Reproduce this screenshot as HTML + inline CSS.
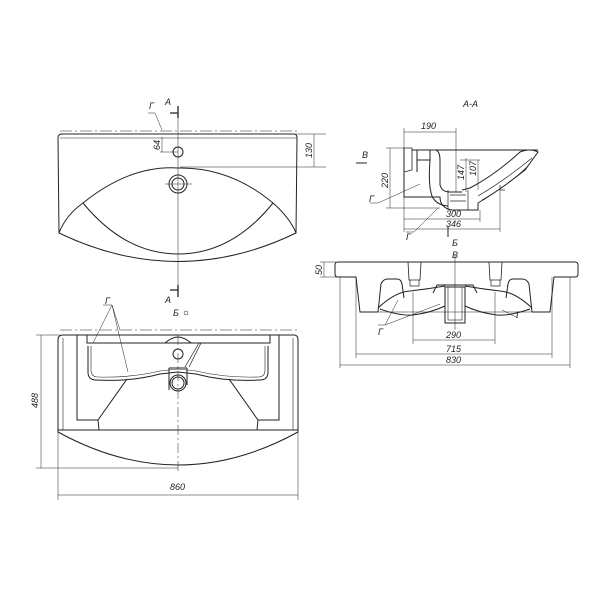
<!DOCTYPE html>
<html><head><meta charset="utf-8"><style>
html,body{margin:0;padding:0;background:#fff}
svg{display:block}
text{font-family:"Liberation Sans",sans-serif;font-style:italic;font-size:9px;fill:#222}
</style></head><body>
<svg width="600" height="600" viewBox="0 0 600 600" xmlns="http://www.w3.org/2000/svg">
<g fill="none" stroke="#222" stroke-width="1">
<!-- TOP VIEW -->
<line x1="60" y1="131" x2="298" y2="131" stroke-dasharray="12,3,2,3" stroke-width="0.6"/>
<path d="M62 134 L294 134 Q297 134 297 138 L296 233 Q178 290 59 233 L58 138 Q58 134 62 134 Z"/>
<line x1="60" y1="138" x2="297" y2="138" stroke-width="0.6"/>
<path d="M59 233 Q66 215 83 203 Q130 165 178 168 Q230 167 273 203 Q290 218 296 233"/>
<path d="M83 203 Q125 254 178 254 Q232 254 273 203"/>
<line x1="178" y1="110" x2="178" y2="292" stroke-width="0.5"/>
<circle cx="178" cy="152" r="5"/>
<circle cx="178" cy="184" r="9"/>
<circle cx="178" cy="184" r="6"/>
<line x1="165" y1="184" x2="192" y2="184" stroke-width="0.5"/>
<path d="M170 113 L178 113 M178 106 L178 118" stroke-width="1.3"/>
<path d="M170 290 L178 290 M178 285 L178 297" stroke-width="1.3"/>
<path d="M148 113 L155 113 L162 130" stroke-width="0.5"/>
<line x1="162" y1="137" x2="162" y2="152" stroke-width="0.5"/>
<line x1="160" y1="152" x2="178" y2="152" stroke-width="0.5"/>
<line x1="296" y1="134" x2="326" y2="134" stroke-width="0.5"/>
<line x1="180" y1="167" x2="326" y2="167" stroke-width="0.5"/>
<line x1="314" y1="134" x2="314" y2="167" stroke-width="0.5"/>
<line x1="324" y1="262" x2="324" y2="277" stroke-width="0.5"/>

<!-- BOTTOM VIEW -->
<line x1="60" y1="330" x2="298" y2="330" stroke-dasharray="12,3,2,3" stroke-width="0.6"/>
<path d="M63 335 L294 335 Q298 335 298 340 L298 432 Q178 498 58 432 L58 340 Q58 335 63 335 Z"/>
<line x1="58" y1="430" x2="298" y2="430"/>
<line x1="63" y1="338" x2="63" y2="430" stroke-width="0.6"/>
<line x1="293" y1="338" x2="293" y2="430" stroke-width="0.6"/>
<path d="M77 335 L77 420 L98 420 L127 379"/>
<path d="M279 335 L279 420 L258 420 L229 379"/>
<path d="M98 420 L99 430 M258 420 L257 430"/>
<path d="M87 335 L87 343 L270 343 L270 335"/>
<path d="M88 346 L88 372 Q88 380 96 380 Q130 382 160 374 L178 372 L196 374 Q226 382 260 380 Q268 380 268 372 L268 346"/>
<path d="M91 346 L91 370 Q91 377 98 377 Q130 378 160 371 L178 369 L196 371 Q226 378 258 377 Q265 377 265 370 L265 346" stroke-width="0.6"/>
<path d="M165 343 Q172 337 178 337 Q184 337 191 343"/>
<circle cx="178" cy="354" r="5"/>
<path d="M169 368 L169 390 M187 368 L187 385 M169 368 L187 368"/>
<circle cx="178" cy="383" r="8"/>
<circle cx="178" cy="383" r="6"/>
<path d="M185 367 L199 343 M189 367 L201 343" stroke-width="0.7"/>
<line x1="178" y1="335" x2="178" y2="472" stroke-width="0.5" stroke-dasharray="10,3,2,3"/>
<path d="M103 305 L112 305 L120 330 M112 305 L128 372 M112 305 L93 343" stroke-width="0.5"/>
<line x1="36" y1="335" x2="60" y2="335" stroke-width="0.5"/>
<line x1="36" y1="468" x2="178" y2="468" stroke-width="0.5"/>
<line x1="41" y1="335" x2="41" y2="468" stroke-width="0.5"/>
<line x1="58" y1="432" x2="58" y2="500" stroke-width="0.5"/>
<line x1="298" y1="432" x2="298" y2="500" stroke-width="0.5"/>
<line x1="58" y1="495" x2="298" y2="495" stroke-width="0.5"/>
<circle cx="186" cy="313" r="2" stroke-width="0.5"/>

<!-- SECTION A-A -->
<path d="M404 148 L404 197 L440 197 Q440 208 452 210 L478 210 L478 203 Q500 190 525 170 L538 152 Q530 148 520 152 Q495 175 470 188 L462 190"/>
<line x1="412" y1="150" x2="538" y2="150"/>
<path d="M404 148 L412 148 L412 170 L404 172" stroke-width="0.8"/>
<path d="M417 150 L417 172 M417 160 L430 160 L430 150"/>
<path d="M432 150 L436 150 Q440 152 440 160 L440 185 Q442 192 450 192 L462 192"/>
<path d="M430 160 Q428 185 432 196 Q436 205 448 206"/>
<path d="M448 190 L448 210 M468 190 L468 210 M450 195 L466 195 M450 201 L466 201" stroke-width="0.7"/>
<path d="M478 196 Q505 180 532 158 M482 200 Q510 184 528 166" stroke-width="0.7"/>
<path d="M500 185 L500 190 L505 190" stroke-width="0.7"/>
<line x1="456" y1="150" x2="456" y2="192" stroke-width="0.5"/>
<line x1="404" y1="128" x2="404" y2="232" stroke-width="0.5"/>
<line x1="404" y1="132" x2="456" y2="132" stroke-width="0.5"/>
<line x1="456" y1="128" x2="456" y2="150" stroke-width="0.5"/>
<line x1="386" y1="148" x2="404" y2="148" stroke-width="0.5"/>
<line x1="386" y1="208" x2="440" y2="208" stroke-width="0.5"/>
<line x1="390" y1="148" x2="390" y2="208" stroke-width="0.5"/>
<line x1="404" y1="219" x2="480" y2="219" stroke-width="0.5"/>
<line x1="480" y1="210" x2="480" y2="222" stroke-width="0.5"/>
<line x1="404" y1="229" x2="500" y2="229" stroke-width="0.5"/>
<line x1="500" y1="190" x2="500" y2="232" stroke-width="0.5"/>
<line x1="466" y1="158" x2="466" y2="192" stroke-width="0.5"/>
<line x1="478" y1="160" x2="478" y2="190" stroke-width="0.5"/>
<line x1="460" y1="160" x2="480" y2="160" stroke-width="0.5"/>
<path d="M356 163 L367 163" stroke-width="1"/>
<path d="M448 237 L448 226" stroke-width="1"/>
<path d="M370 203 L378 203 L420 184" stroke-width="0.5"/>
<path d="M406 232 L414 232 L438 208" stroke-width="0.5"/>

<!-- FRONT VIEW B -->
<path d="M338 262 L575 262 Q578 262 578 265 L578 274 Q578 277 575 277 L554 277 L550 312 L532 312"/>
<path d="M338 262 Q335 262 335 265 L335 274 Q335 277 338 277 L356 277 L360 312 L378 312"/>
<path d="M378 312 L381 284 Q383 279 388 279 L397 279 Q401 279 402 284 L404 298"/>
<path d="M532 312 L529 284 Q527 279 522 279 L513 279 Q509 279 508 284 L506 298"/>
<path d="M408 262 L409 280 L420 280 L421 262 M489 262 L490 280 L501 280 L502 262" stroke-width="0.8"/>
<path d="M410 280 L410 286 L419 286 L419 280 M491 280 L491 286 L500 286 L500 280" stroke-width="0.7"/>
<path d="M433 293 L437 285 L473 285 L477 293"/>
<path d="M378 308 Q395 292 410 291 Q428 289 445 286 M465 286 Q482 289 500 291 Q515 292 532 308"/>
<path d="M380 309 Q400 316 413 315 Q430 313 445 306 M465 306 Q480 313 497 315 Q510 316 530 309"/>
<path d="M378 312 L532 312" stroke-width="0.6"/>
<rect x="445" y="287" width="20" height="36"/>
<rect x="448" y="287" width="14" height="33" stroke-width="0.6"/>
<line x1="455" y1="255" x2="455" y2="330" stroke-width="0.5"/>
<line x1="320" y1="262" x2="336" y2="262" stroke-width="0.5"/>
<line x1="320" y1="277" x2="356" y2="277" stroke-width="0.5"/>
<line x1="413" y1="292" x2="413" y2="344" stroke-width="0.5"/>
<line x1="495" y1="292" x2="495" y2="344" stroke-width="0.5"/>
<line x1="413" y1="340" x2="495" y2="340" stroke-width="0.5"/>
<line x1="356" y1="277" x2="356" y2="358" stroke-width="0.5"/>
<line x1="552" y1="277" x2="552" y2="358" stroke-width="0.5"/>
<line x1="356" y1="354" x2="552" y2="354" stroke-width="0.5"/>
<line x1="340" y1="277" x2="340" y2="368" stroke-width="0.5"/>
<line x1="570" y1="277" x2="570" y2="368" stroke-width="0.5"/>
<line x1="340" y1="365" x2="570" y2="365" stroke-width="0.5"/>
<path d="M378 325 L385 325 L398 300 M385 325 L440 304" stroke-width="0.5"/>
<path d="M518 318 L502 310" stroke-width="0.5"/>
</g>
<g>
<text x="149" y="109">Г</text>
<text x="165" y="105">А</text>
<text x="165" y="303">А</text>
<text x="173" y="316">Б</text>
<text x="105" y="304">Г</text>
<text x="0" y="0" transform="translate(160 150) rotate(-90)">64</text>
<text x="0" y="0" transform="translate(312 158) rotate(-90)">130</text>
<text x="0" y="0" transform="translate(322 275) rotate(-90)">50</text>
<text x="0" y="0" transform="translate(38 408) rotate(-90)">488</text>
<text x="170" y="490">860</text>
<text x="463" y="107">А-А</text>
<text x="421" y="129">190</text>
<text x="362" y="158">В</text>
<text x="0" y="0" transform="translate(388 188) rotate(-90)">220</text>
<text x="0" y="0" transform="translate(464 180) rotate(-90)">147</text>
<text x="0" y="0" transform="translate(476 176) rotate(-90)">107</text>
<text x="369" y="202">Г</text>
<text x="446" y="217">300</text>
<text x="446" y="227">346</text>
<text x="406" y="240">Г</text>
<text x="452" y="246">Б</text>
<text x="452" y="258">В</text>
<text x="378" y="335">Г</text>
<text x="516" y="318">Г</text>
<text x="446" y="338">290</text>
<text x="446" y="352">715</text>
<text x="446" y="363">830</text>
</g>
</svg>
</body></html>
